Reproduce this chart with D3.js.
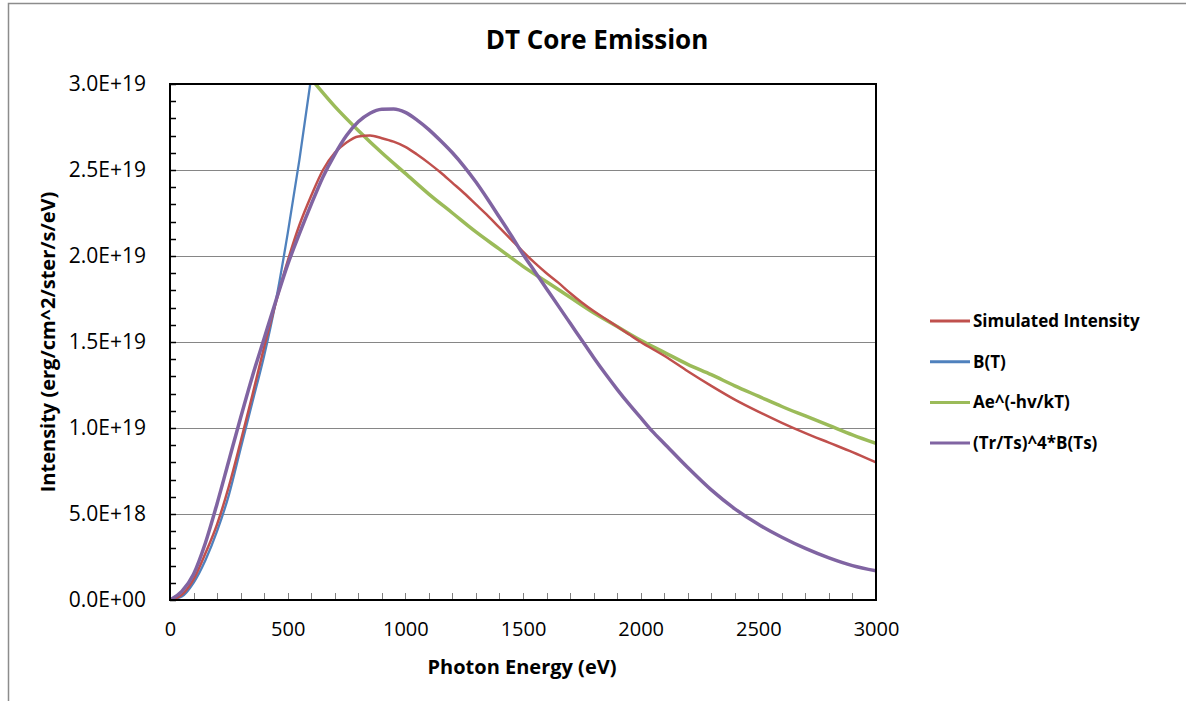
<!DOCTYPE html>
<html>
<head>
<meta charset="utf-8">
<script src="https://cdn.jsdelivr.net/npm/d3@7"></script>
<style>
  html, body { margin: 0; padding: 0; background: #fff; }
  svg { display: block; }
  text { font-family: "Open Sans", "Liberation Sans", sans-serif; fill: #000; }
</style>
</head>
<body>
<svg id="chart" width="1186" height="701"></svg>
<script>
// ---------- data (intensity in units of 1E19) ----------
const seriesNames = ["Simulated Intensity", "B(T)", "Ae^(-hv/kT)", "(Tr/Ts)^4*B(Ts)"];
const seriesColors = ["#C0504D", "#4F81BD", "#9BBB59", "#8064A2"];
const seriesWidths = [2.5, 2.3, 3.5, 3.5];

const simEnergy = [0,50,100,150,200,250,300,350,400,450,500,550,600,650,700,750,800,850,900,950,1000,1050,1100,1150,1200,1250,1300,1350,1400,1450,1500,1550,1600,1650,1700,1750,1800,1850,1900,1950,2000,2100,2200,2300,2400,2500,2600,2700,2800,2900,3000];
const simIntensity = [0,0.03,0.12,0.27,0.44,0.66,0.92,1.19,1.47,1.73,1.97,2.18,2.35,2.50,2.60,2.66,2.695,2.70,2.685,2.665,2.635,2.59,2.54,2.485,2.425,2.365,2.30,2.235,2.165,2.095,2.025,1.96,1.90,1.845,1.785,1.73,1.68,1.635,1.59,1.545,1.50,1.42,1.33,1.245,1.165,1.095,1.03,0.97,0.915,0.86,0.80];

const btEnergy = [0,50,100,150,200,250,300,350,400,450,500,550,600,650];
const btIntensity = [0,0.02,0.10,0.23,0.40,0.61,0.88,1.15,1.42,1.74,2.13,2.56,3.04,3.55];

const expEnergy = [600,700,800,900,1000,1100,1200,1300,1400,1500,1600,1700,1800,1900,2000,2100,2200,2300,2400,2500,2600,2700,2800,2900,3000];
const expIntensity = [3.03,2.87,2.73,2.60,2.48,2.36,2.25,2.14,2.04,1.94,1.85,1.76,1.67,1.59,1.51,1.44,1.37,1.31,1.245,1.185,1.125,1.07,1.015,0.96,0.91];

const tsEnergy = [0,50,100,150,200,250,300,350,400,450,500,550,600,650,700,750,800,850,900,950,1000,1050,1100,1150,1200,1250,1300,1350,1400,1450,1500,1550,1600,1650,1700,1750,1800,1850,1900,1950,2000,2050,2100,2200,2300,2400,2500,2600,2700,2800,2900,3000];
const tsIntensity = [0,0.05,0.15,0.33,0.56,0.81,1.06,1.30,1.52,1.74,1.95,2.13,2.30,2.46,2.59,2.70,2.78,2.83,2.853,2.855,2.835,2.79,2.735,2.67,2.60,2.52,2.43,2.33,2.225,2.12,2.01,1.91,1.81,1.71,1.61,1.51,1.41,1.315,1.225,1.14,1.06,0.98,0.91,0.77,0.64,0.53,0.44,0.365,0.30,0.245,0.20,0.17];

const xTicks = [0,500,1000,1500,2000,2500,3000];
const yTicks = [0,0.5,1.0,1.5,2.0,2.5,3.0];
const yTickLabels = ["0.0E+00","5.0E+18","1.0E+19","1.5E+19","2.0E+19","2.5E+19","3.0E+19"];

const titleText = "DT Core Emission";
const xTitle = "Photon Energy (eV)";
const yTitle = "Intensity (erg/cm^2/ster/s/eV)";

// ---------- layout ----------
const svg = d3.select("#chart");
const pLeft = 170, pRight = 876, pTop = 84, pBottom = 600;

const x = d3.scaleLinear().domain([0, 3000]).range([pLeft, pRight]);
const y = d3.scaleLinear().domain([0, 3.0]).range([pBottom, pTop]);

// outer chart border
svg.append("path")
  .attr("d", `M8.5,701 L8.5,3.5 L1186,3.5`)
  .attr("fill", "none").attr("stroke", "#8c8c8c").attr("stroke-width", 1.5);

// gridlines
svg.append("g").selectAll("line")
  .data(yTicks.filter(d => d > 0 && d < 3.0))
  .join("line")
  .attr("x1", pLeft).attr("x2", pRight)
  .attr("y1", d => Math.round(y(d)) + 0.5).attr("y2", d => Math.round(y(d)) + 0.5)
  .attr("stroke", "#868686").attr("stroke-width", 1);

// minor ticks
const yMinor = d3.range(0, 31).map(i => i / 10);
svg.append("g").selectAll("line")
  .data(yMinor)
  .join("line")
  .attr("x1", pLeft).attr("x2", pLeft + 6)
  .attr("y1", d => Math.round(y(d)) + 0.5).attr("y2", d => Math.round(y(d)) + 0.5)
  .attr("stroke", "#000").attr("stroke-width", 1.5);

const xMinor = d3.range(0, 3001, 100);
svg.append("g").selectAll("line")
  .data(xMinor)
  .join("line")
  .attr("x1", d => Math.round(x(d)) + 0.5).attr("x2", d => Math.round(x(d)) + 0.5)
  .attr("y1", pBottom).attr("y2", pBottom - 7)
  .attr("stroke", "#808080").attr("stroke-width", 1);

// clip
svg.append("clipPath").attr("id", "plotclip")
  .append("rect").attr("x", pLeft).attr("y", pTop).attr("width", pRight - pLeft).attr("height", pBottom - pTop);

const line = d3.line().x(d => x(d[0])).y(d => y(d[1])).curve(d3.curveMonotoneX);
const allSeries = [
  d3.zip(simEnergy, simIntensity),
  d3.zip(btEnergy, btIntensity),
  d3.zip(expEnergy, expIntensity),
  d3.zip(tsEnergy, tsIntensity)
];
const drawOrder = [1, 2, 0, 3];
const g = svg.append("g").attr("clip-path", "url(#plotclip)");
drawOrder.forEach(i => {
  g.append("path")
    .datum(allSeries[i])
    .attr("d", line)
    .attr("fill", "none")
    .attr("stroke", seriesColors[i])
    .attr("stroke-width", seriesWidths[i])
    .attr("stroke-linejoin", "round")
    .attr("stroke-linecap", "round");
});

// plot frame
svg.append("rect")
  .attr("x", pLeft).attr("y", pTop).attr("width", pRight - pLeft).attr("height", pBottom - pTop)
  .attr("fill", "none").attr("stroke", "#000").attr("stroke-width", 2);

// axes labels
const yAxis = d3.axisLeft(y).tickValues(yTicks).tickSize(0).tickPadding(24)
  .tickFormat((d, i) => yTickLabels[i]);
const ya = svg.append("g").attr("transform", `translate(${pLeft},0)`).call(yAxis);
ya.select(".domain").remove();
ya.selectAll("text").attr("font-size", 21).attr("font-family", "Open Sans, sans-serif").attr("fill", "#000");

const xAxis = d3.axisBottom(x).tickValues(xTicks).tickSize(0).tickPadding(22).tickFormat(d3.format("d"));
const xa = svg.append("g").attr("transform", `translate(0,${pBottom})`).call(xAxis);
xa.select(".domain").remove();
xa.selectAll("text").attr("font-size", 20).attr("font-family", "Open Sans, sans-serif").attr("fill", "#000");

// titles
svg.append("text").attr("x", 597).attr("y", 49).attr("text-anchor", "middle")
  .attr("font-size", 26).attr("font-weight", "bold").text(titleText);
svg.append("text").attr("x", 522).attr("y", 674).attr("text-anchor", "middle")
  .attr("font-size", 20).attr("font-weight", "bold").text(xTitle);
svg.append("text").attr("transform", `translate(55,${(pTop + pBottom) / 2}) rotate(-90)`)
  .attr("text-anchor", "middle").attr("font-size", 20).attr("font-weight", "bold").text(yTitle);

// legend
const legend = svg.append("g");
seriesNames.forEach((name, i) => {
  const ly = 321 + i * 40.7;
  legend.append("line").attr("x1", 930).attr("x2", 970).attr("y1", ly).attr("y2", ly)
    .attr("stroke", seriesColors[i]).attr("stroke-width", 3);
  legend.append("text").attr("x", 973).attr("y", ly + 6)
    .attr("font-size", 17).attr("font-weight", "bold").text(name);
});
</script>
</body>
</html>
